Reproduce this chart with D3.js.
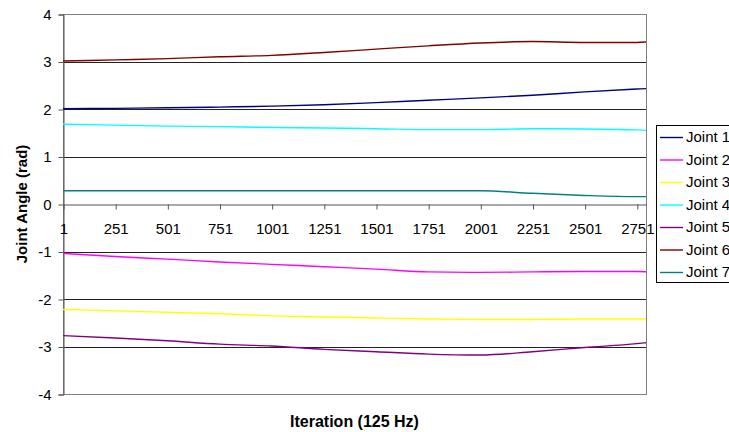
<!DOCTYPE html>
<html>
<head>
<meta charset="utf-8">
<script src="https://cdn.jsdelivr.net/npm/d3@7/dist/d3.min.js"></script>
<style>
  body { margin: 0; background: #fff; }
  text { font-family: "Liberation Sans", Arial, sans-serif; fill: #000; }
  .axis path, .axis line { stroke: #555; }
</style>
</head>
<body>
<div id="chart"></div>
<script>
// sample iterations (tick positions + last point)
var iterations = [1, 251, 501, 751, 1001, 1251, 1501, 1751, 2001, 2251, 2501, 2751, 2795];
var tickLabels = [1, 251, 501, 751, 1001, 1251, 1501, 1751, 2001, 2251, 2501, 2751];
var yTicks = [-4, -3, -2, -1, 0, 1, 2, 3, 4];

var seriesNames = ['Joint 1', 'Joint 2', 'Joint 3', 'Joint 4', 'Joint 5', 'Joint 6', 'Joint 7'];
var seriesColors = ['#000080', '#FF00FF', '#FFFF00', '#00FFFF', '#800080', '#800000', '#008080'];

var joint1 = [2.005, 2.014, 2.025, 2.04, 2.06, 2.09, 2.135, 2.185, 2.235, 2.29, 2.36, 2.42, 2.43];
var joint2 = [-1.04, -1.105, -1.16, -1.22, -1.27, -1.32, -1.37, -1.43, -1.44, -1.43, -1.42, -1.42, -1.425];
var joint3 = [-2.22, -2.25, -2.28, -2.31, -2.355, -2.38, -2.40, -2.42, -2.43, -2.43, -2.42, -2.42, -2.42];
var joint4 = [1.68, 1.66, 1.64, 1.63, 1.61, 1.60, 1.585, 1.565, 1.565, 1.585, 1.58, 1.56, 1.55];
var joint5 = [-2.77, -2.82, -2.88, -2.95, -2.99, -3.06, -3.11, -3.16, -3.18, -3.11, -3.02, -2.94, -2.92];
var joint6 = [3.01, 3.035, 3.06, 3.10, 3.13, 3.19, 3.26, 3.33, 3.39, 3.42, 3.40, 3.40, 3.41];
var joint7 = [0.28, 0.28, 0.28, 0.28, 0.28, 0.28, 0.28, 0.28, 0.28, 0.225, 0.18, 0.155, 0.155];

var allSeries = [joint1, joint2, joint3, joint4, joint5, joint6, joint7];

var width = 729, height = 432;
var margin = {top: 14, right: 83, bottom: 38, left: 63};
var drawWidth = width - margin.left - margin.right;
var drawHeight = height - margin.top - margin.bottom;

var svg = d3.select('#chart').append('svg')
    .attr('width', width)
    .attr('height', height);

var xScale = d3.scaleLinear().domain([1, 2795]).range([0, drawWidth]);
var yScale = d3.scaleLinear().domain([-4, 4]).range([drawHeight, 0]);

var g = svg.append('g')
    .attr('transform', 'translate(' + margin.left + ',' + margin.top + ')');

// gridlines
g.selectAll('.grid')
    .data(yTicks.filter(function(d) { return d !== 0 && d !== 4 && d !== -4; }))
    .enter().append('line')
    .attr('class', 'grid')
    .attr('x1', 0).attr('x2', drawWidth)
    .attr('y1', function(d) { return Math.round(yScale(d)) + 0.5; })
    .attr('y2', function(d) { return Math.round(yScale(d)) + 0.5; })
    .attr('stroke', '#222')
    .attr('stroke-width', 1);

// plot area border
g.append('rect')
    .attr('x', 0.5).attr('y', 0.5)
    .attr('width', drawWidth).attr('height', drawHeight)
    .attr('fill', 'none')
    .attr('stroke', '#808080');

// y axis (plain hyphen minus like the original)
var yAxis = d3.axisLeft(yScale).tickValues(yTicks).tickSize(5).tickPadding(7)
    .tickFormat(function(d) { return String(d); });
g.append('g')
    .attr('class', 'axis y-axis')
    .attr('transform', 'translate(0.5,0.5)')
    .call(yAxis)
    .call(function(s) { s.selectAll('text').attr('font-size', 15).style('font-family', '"Liberation Sans", Arial, sans-serif'); });

// x axis crossing at y = 0
var xAxis = d3.axisBottom(xScale).tickValues(tickLabels).tickSize(5).tickPadding(14).tickSizeOuter(0)
    .tickFormat(function(d) { return String(d); });
g.append('g')
    .attr('class', 'axis x-axis')
    .attr('transform', 'translate(0.5,' + (Math.round(yScale(0)) + 0.5) + ')')
    .call(xAxis)
    .call(function(s) { s.selectAll('text').attr('font-size', 15).style('font-family', '"Liberation Sans", Arial, sans-serif'); });

// series lines
var line = d3.line()
    .x(function(d, i) { return xScale(iterations[i]); })
    .y(function(d) { return yScale(d); })
    .curve(d3.curveMonotoneX);

g.selectAll('.series')
    .data(allSeries)
    .enter().append('path')
    .attr('class', 'series')
    .attr('d', line)
    .attr('fill', 'none')
    .attr('stroke', function(d, i) { return seriesColors[i]; })
    .attr('stroke-width', 1.4);

// axis titles
svg.append('text')
    .attr('x', margin.left + drawWidth / 2)
    .attr('y', 427)
    .attr('text-anchor', 'middle')
    .attr('font-size', 16)
    .attr('font-weight', 'bold')
    .text('Iteration (125 Hz)');

svg.append('text')
    .attr('transform', 'translate(27,' + (margin.top + drawHeight / 2) + ') rotate(-90)')
    .attr('text-anchor', 'middle')
    .attr('font-size', 15)
    .attr('font-weight', 'bold')
    .text('Joint Angle (rad)');

// legend
var legend = svg.append('g').attr('transform', 'translate(656,125)');
legend.append('rect')
    .attr('x', 0.5).attr('y', 0.5)
    .attr('width', 90).attr('height', 157)
    .attr('fill', '#fff')
    .attr('stroke', '#000');

var items = legend.selectAll('.item')
    .data(seriesNames)
    .enter().append('g')
    .attr('class', 'item')
    .attr('transform', function(d, i) { return 'translate(0,' + (12 + i * 22.5) + ')'; });

items.append('line')
    .attr('x1', 4).attr('x2', 27)
    .attr('y1', 0.5).attr('y2', 0.5)
    .attr('stroke', function(d, i) { return seriesColors[i]; })
    .attr('stroke-width', 1.4);

items.append('text')
    .attr('x', 30)
    .attr('dy', '0.36em')
    .attr('font-size', 15)
    .text(function(d) { return d; });
</script>
</body>
</html>
